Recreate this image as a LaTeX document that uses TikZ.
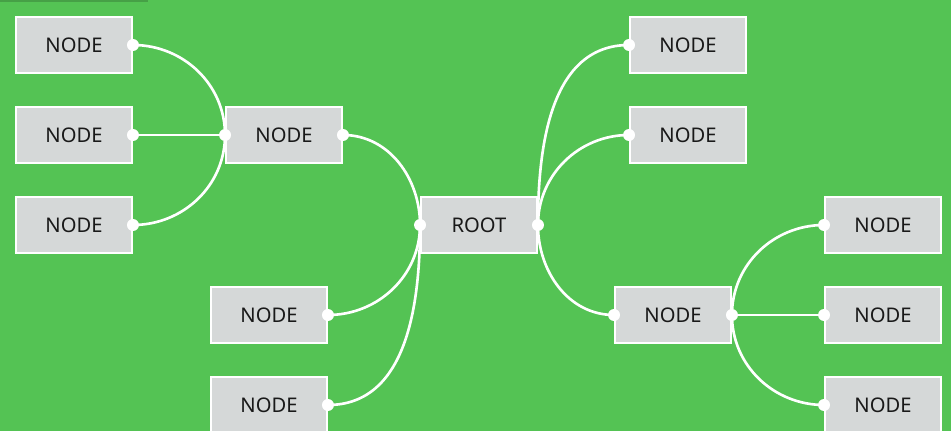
\documentclass[tikz,border=0pt]{standalone}
\usepackage{fontspec}
\setmainfont{Noto Sans}
\usepackage{tikz}
\usetikzlibrary{calc,positioning,shadows}
\definecolor{bggreen}{RGB}{84,195,84}
\definecolor{topbar}{RGB}{70,160,70}
\definecolor{boxgray}{RGB}{213,216,216}

\begin{document}
\begin{tikzpicture}[x=0.02cm,y=-0.02cm,
  box/.style={draw=white,line width=1.1pt,fill=boxgray,minimum width=2.32cm,minimum height=1.12cm,
    inner sep=0pt,font=\fontsize{11.5}{13}\selectfont,text=black!90,
    drop shadow={opacity=0.25,shadow xshift=0.6pt,shadow yshift=-0.6pt}},
  link/.style={white,line width=1.5pt},
  dot/.style={white}]
\fill[bggreen] (0,0) rectangle (951,431);
\fill[topbar] (0,0) rectangle (148,2);
\clip (0,0) rectangle (951,431);

% left side
\node[box] (l1) at (74,45) {NODE};
\node[box] (l2) at (74,135) {NODE};
\node[box] (l3) at (74,225) {NODE};
\node[box] (la) at (284,135) {NODE};
\node[box] (l4) at (269,315) {NODE};
\node[box] (l5) at (269,405) {NODE};
\node[box] (root) at (479,225) {ROOT};
% right side
\node[box] (r1) at (688,45) {NODE};
\node[box] (r2) at (688,135) {NODE};
\node[box] (rb) at (673,315) {NODE};
\node[box] (r3) at (883,225) {NODE};
\node[box] (r4) at (883,315) {NODE};
\node[box] (r5) at (883,405) {NODE};

\draw[link] (l1.east) to[out=0,in=90] (la.west);
\draw[link] (l2.east) -- (la.west);
\draw[link] (l3.east) to[out=0,in=-90] (la.west);
\draw[link] (la.east) to[out=0,in=90] (root.west);
\draw[link] (l4.east) to[out=0,in=-90] (root.west);
\draw[link] (l5.east) to[out=0,in=-90] (root.west);
\draw[link] (root.east) to[out=90,in=180] (r1.west);
\draw[link] (root.east) to[out=90,in=180] (r2.west);
\draw[link] (root.east) to[out=-90,in=180] (rb.west);
\draw[link] (rb.east) to[out=90,in=180] (r3.west);
\draw[link] (rb.east) -- (r4.west);
\draw[link] (rb.east) to[out=-90,in=180] (r5.west);

\foreach \n in {l1,l2,l3,l4,l5,la,rb,root}
  \fill[dot] (\n.east) circle (0.12cm);
\foreach \n in {la,root,r1,r2,rb,r3,r4,r5}
  \fill[dot] (\n.west) circle (0.12cm);
\end{tikzpicture}
\end{document}
